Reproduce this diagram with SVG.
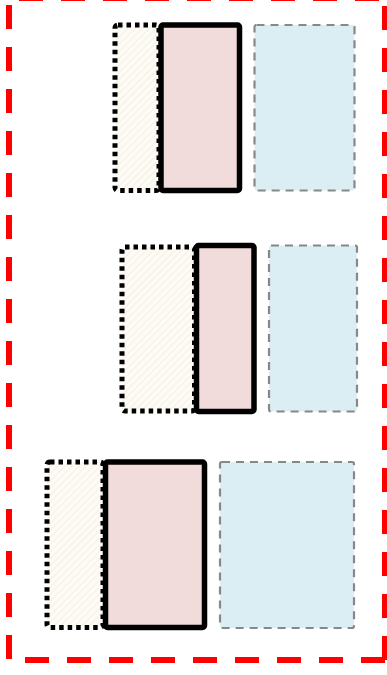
<svg xmlns="http://www.w3.org/2000/svg" width="387" height="675" viewBox="0 0 387 675">
<defs>
<pattern id="hatch" patternUnits="userSpaceOnUse" width="5" height="5" patternTransform="rotate(-45)">
<rect width="5" height="5" fill="#fdfbf6"/>
<line x1="0" y1="0" x2="5" y2="0" stroke="#f5eddd" stroke-width="1.6"/>
</pattern>
</defs>
<style>
.frame{fill:none;stroke:#ff0000;stroke-width:6;stroke-dasharray:24 18}
.dotted{fill:url(#hatch);stroke:#000;stroke-width:5;stroke-dasharray:4.5 4}
.solid{fill:#f2dcdb;stroke:#000;stroke-width:5.5}
.dashed{fill:#dbeef3;stroke:#888;stroke-width:2.2;stroke-dasharray:8 6}
</style>
<g id="frame">
<line class="frame" x1="19" y1="-2" x2="388" y2="-2"/>
<line class="frame" x1="385" y1="6" x2="385" y2="663"/>
<line class="frame" x1="25" y1="660" x2="385" y2="660"/>
<line class="frame" x1="9" y1="5" x2="9" y2="663"/>
</g>
<g id="row1">
<rect id="r1-dotted" class="dotted" x="115" y="25" width="44" height="165.5" rx="3"/>
<rect id="r1-solid" class="solid" x="161" y="25" width="78.5" height="165.5" rx="2"/>
<rect id="r1-dashed" class="dashed" x="254.5" y="25" width="100" height="165.5" rx="2"/>
</g>
<g id="row2">
<rect id="r2-dotted" class="dotted" x="122" y="247" width="72.5" height="164" rx="3"/>
<rect id="r2-solid" class="solid" x="196.5" y="245.5" width="57.5" height="166" rx="2"/>
<rect id="r2-dashed" class="dashed" x="269" y="245.5" width="88" height="166" rx="2"/>
</g>
<g id="row3">
<rect id="r3-dotted" class="dotted" x="47" y="462" width="56" height="165.5" rx="3"/>
<rect id="r3-solid" class="solid" x="105.5" y="462" width="99" height="165.5" rx="2"/>
<rect id="r3-dashed" class="dashed" x="220" y="462" width="134" height="166" rx="2"/>
</g>
<g id="connectors"/>
</svg>
